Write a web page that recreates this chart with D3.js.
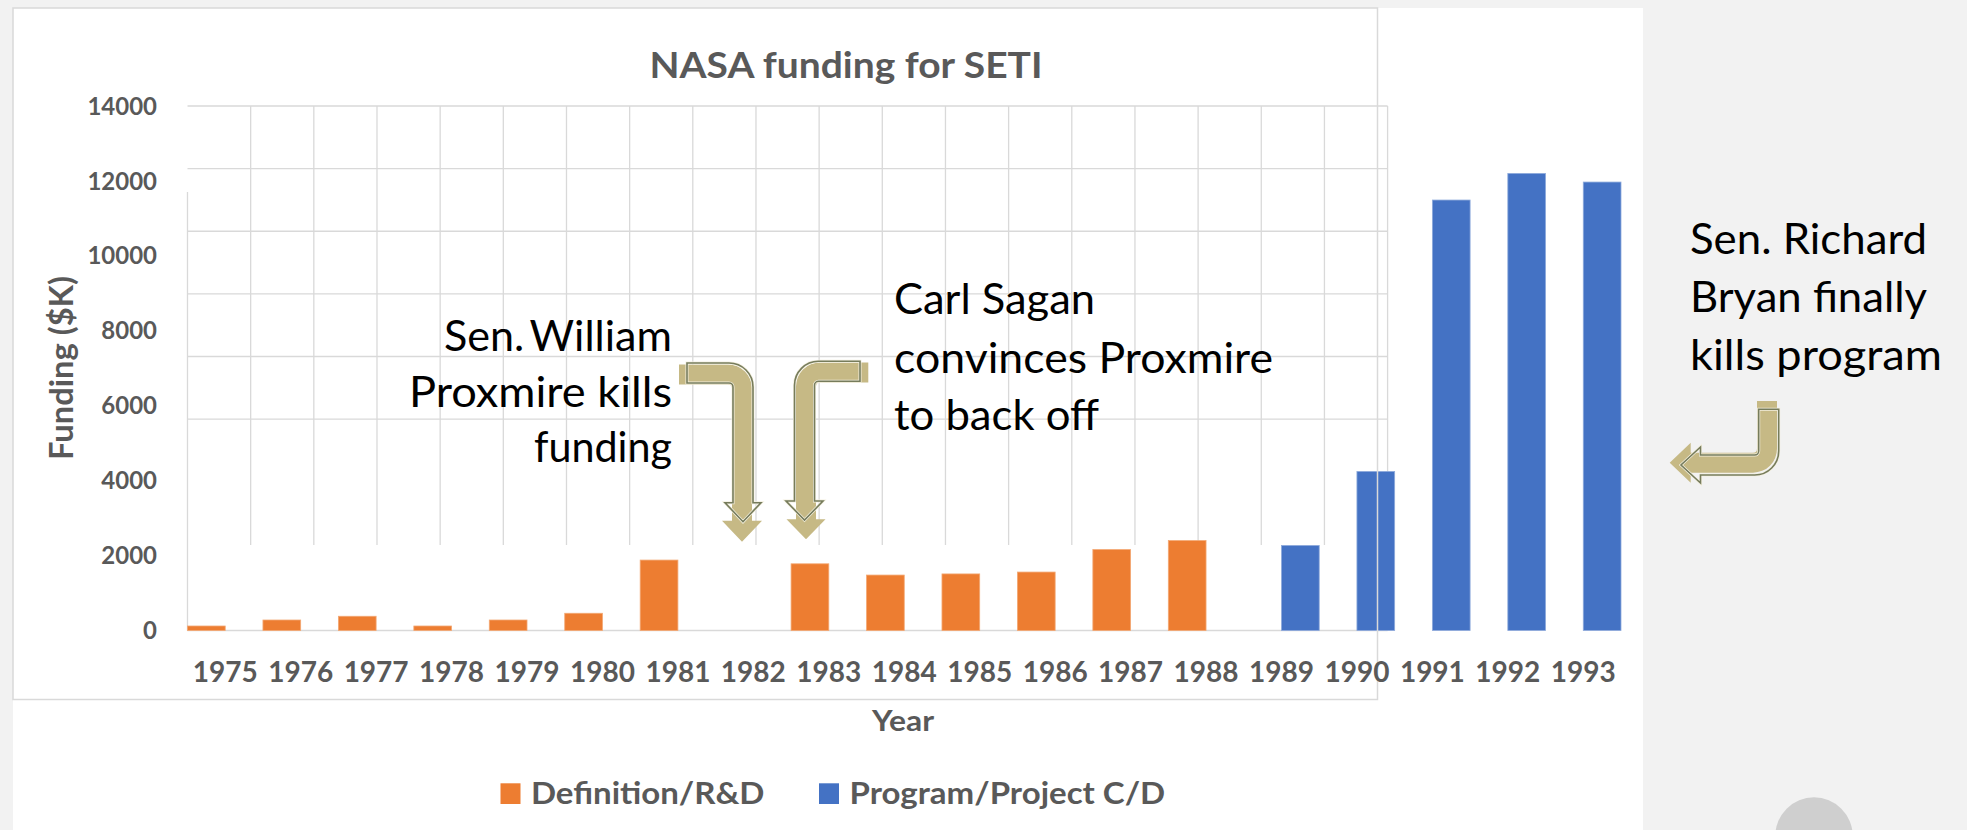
<!DOCTYPE html>
<html><head><meta charset="utf-8">
<script src="https://cdn.jsdelivr.net/npm/d3@7"></script>
<style>
html,body{margin:0;padding:0;background:#f2f2f2;overflow:hidden;}
svg{display:block;}
</style></head>
<body>
<svg id="chart" width="1967" height="830"></svg>
<script>
// ---------------- data ----------------
const years = [1975,1976,1977,1978,1979,1980,1981,1982,1983,1984,1985,1986,1987,1988,1989,1990,1991,1992,1993];
const definitionRD = [120,280,380,120,280,460,1880,0,1780,1480,1510,1560,2160,2400,0,0,0,0,0];
const programCD   = [0,0,0,0,0,0,0,0,0,0,0,0,0,0,2270,4245,11490,12200,11970];
const seriesNames = ["Definition/R&D", "Program/Project C/D"];
const seriesColors = ["#ed7d31", "#4472c4"];
const yTicks = [0,2000,4000,6000,8000,10000,12000,14000];
const gridTicks = [4000,6000,8000,10000,12000,14000];
const chartTitle = "NASA funding for SETI";
const yTitle = "Funding ($K)";
const xTitle = "Year";
const noteProxmire = ["Sen.\u2009William", "Proxmire kills", "funding"];
const noteSagan = ["Carl Sagan", "convinces Proxmire", "to back off"];
const noteBryan = ["Sen. Richard", "Bryan finally", "kills program"];

// ---------------- layout ----------------
const svg = d3.select("#chart");
const W = 1967, H = 830;
const textGray = "#595959", gridGray = "#d9d9d9";
const plotLeft = 187.5, plotRight = 1621, gridRight = 1387.6;
const y0 = 630.5, yTop = 106;

svg.append("rect").attr("width", W).attr("height", H).attr("fill", "#f2f2f2");
svg.append("rect").attr("x", 13).attr("y", 8).attr("width", 1643 - 13).attr("height", H - 8).attr("fill", "#fff");

const x = d3.scaleBand().domain(years).range([plotLeft, plotRight]).paddingInner(0).paddingOuter(0);
const xs = d3.scaleBand().domain(seriesNames).range([0, x.bandwidth()]).padding(0);
const y = d3.scaleLinear().domain([0, 14000]).range([y0, yTop]);

// stretched gridline layer (as it appears in the pasted slide)
const xGrid = d3.scaleBand().domain(years).range([plotLeft, gridRight]);
const yGrid = d3.scaleLinear().domain([0, 14000]).range([544.4, yTop]);

const grid = svg.append("g").attr("stroke", gridGray).attr("stroke-width", 1.3);
grid.selectAll("line.h").data(gridTicks).join("line")
  .attr("x1", plotLeft).attr("x2", gridRight)
  .attr("y1", d => yGrid(d)).attr("y2", d => yGrid(d));
grid.selectAll("line.v").data(years.slice(1)).join("line")
  .attr("x1", d => xGrid(d)).attr("x2", d => xGrid(d))
  .attr("y1", yGrid(14000)).attr("y2", 545);
grid.append("line").attr("x1", plotLeft).attr("x2", plotLeft).attr("y1", 192).attr("y2", y0);
grid.append("line").attr("x1", gridRight).attr("x2", gridRight).attr("y1", yTop).attr("y2", y0);
grid.append("line").attr("x1", plotLeft).attr("x2", gridRight).attr("y1", y0).attr("y2", y0);

// bars
const rows = years.map((yr, i) => ({year: yr, vals: [definitionRD[i], programCD[i]]}));
const barStroke = ["#f3a874", "#8eaadb"];
const gBars = svg.append("g");
rows.forEach(r => {
  r.vals.forEach((v, si) => {
    if (!v) return;
    gBars.append("rect")
      .attr("x", x(r.year) + xs(seriesNames[si]))
      .attr("width", xs.bandwidth())
      .attr("y", y(v))
      .attr("height", y0 - y(v))
      .attr("fill", seriesColors[si])
      .attr("stroke", barStroke[si]).attr("stroke-width", 0.8);
  });
});

// chart frame (from the pasted slide object)
svg.append("rect").attr("x", 13).attr("y", 8).attr("width", 1377.5 - 13).attr("height", 699.5 - 8)
  .attr("fill", "none").attr("stroke", gridGray).attr("stroke-width", 1.5);

const font = "Lato, 'Open Sans', sans-serif";
function fit(sel, w) { if (w) sel.attr("textLength", w).attr("lengthAdjust", "spacingAndGlyphs"); return sel; }

// title
fit(svg.append("text").attr("x", 846).attr("y", 77.7).attr("text-anchor", "middle")
  .attr("font-family", font).attr("font-weight", 700).attr("font-size", 37).attr("fill", textGray)
  .text(chartTitle), 393);

// y tick labels
svg.append("g").selectAll("text").data(yTicks).join("text")
  .attr("x", 157).attr("y", d => y(d) + 8.6).attr("text-anchor", "end")
  .attr("font-family", font).attr("font-weight", 700).attr("font-size", 24).attr("fill", textGray)
  .text(d => d);

// x labels
svg.append("g").selectAll("text").data(years).join("text")
  .attr("x", d => x(d) + x.bandwidth() / 2).attr("y", 681.7).attr("text-anchor", "middle")
  .attr("font-family", font).attr("font-weight", 700).attr("font-size", 28).attr("fill", textGray)
  .text(d => d);

// axis titles
fit(svg.append("text").attr("transform", "translate(73.3,368) rotate(-90)").attr("text-anchor", "middle")
  .attr("font-family", font).attr("font-weight", 700).attr("font-size", 31.5).attr("fill", textGray)
  .text(yTitle), 184);
fit(svg.append("text").attr("x", 903).attr("y", 730.7).attr("text-anchor", "middle")
  .attr("font-family", font).attr("font-weight", 700).attr("font-size", 29).attr("fill", textGray)
  .text(xTitle), 62);

// legend
const legendPos = [{sx: 500.5, tx: 530.9, tw: 233.6}, {sx: 819, tx: 849.5, tw: 315.7}];
seriesNames.forEach((name, i) => {
  svg.append("rect").attr("x", legendPos[i].sx).attr("y", 783.3).attr("width", 20).attr("height", 20.7)
    .attr("fill", seriesColors[i]);
  fit(svg.append("text").attr("x", legendPos[i].tx).attr("y", 804)
    .attr("font-family", font).attr("font-weight", 700).attr("font-size", 31).attr("fill", textGray)
    .text(name), legendPos[i].tw);
});

// annotations text
function note(lines, xPos, baselines, anchor, widths) {
  lines.forEach((t, i) => {
    fit(svg.append("text").attr("x", xPos).attr("y", baselines[i]).attr("text-anchor", anchor)
      .attr("font-family", font).attr("font-weight", 400).attr("font-size", 42).attr("fill", "#000")
      .text(t), widths[i]);
  });
}
note(noteProxmire, 672, [351, 406.5, 462], "end", [228, 263, 138]);
note(noteSagan, 894, [313.5, 373.3, 430], "start", [201, 379, 205]);
note(noteBryan, 1690, [253.6, 311.8, 370], "start", [237, 237, 252]);

// bent arrows
function bentArrow(p0, p1, tip, w, hw, hl, rc) {
  const unit = (a, b) => { const dx = b[0] - a[0], dy = b[1] - a[1], l = Math.hypot(dx, dy); return [dx / l, dy / l]; };
  const d1 = unit(p0, p1), d2 = unit(p1, tip);
  const cross = d1[0] * d2[1] - d1[1] * d2[0];
  const sg = cross > 0 ? 1 : -1;
  const N = d => [sg * d[1], -sg * d[0]];
  const h = w / 2;
  const A = [p1[0] - d1[0] * rc, p1[1] - d1[1] * rc];
  const B = [p1[0] + d2[0] * rc, p1[1] + d2[1] * rc];
  const base = [tip[0] - d2[0] * hl, tip[1] - d2[1] * hl];
  const n1 = N(d1), n2 = N(d2);
  const off = (p, n, k) => (p[0] + n[0] * k).toFixed(2) + "," + (p[1] + n[1] * k).toFixed(2);
  const so = cross > 0 ? 1 : 0, si = 1 - so;
  return "M" + off(p0, n1, h) + "L" + off(A, n1, h) +
    "A" + (rc + h) + "," + (rc + h) + " 0 0 " + so + " " + off(B, n2, h) +
    "L" + off(base, n2, h) + "L" + off(base, n2, hw / 2) + "L" + off(tip, n2, 0) +
    "L" + off(base, n2, -hw / 2) + "L" + off(base, n2, -h) + "L" + off(B, n2, -h) +
    "A" + (rc - h) + "," + (rc - h) + " 0 0 " + si + " " + off(A, n1, -h) +
    "L" + off(p0, n1, -h) + "Z";
}
const arrowFill = "#c6b985", arrowLine = "#767c5c";
const arrows = [
  {fill: [[679, 374.5], [742, 374.5], [742, 541.7], 20, 40, 21],
   line: [[687, 373], [743, 373], [743, 521.7], 20, 36, 19]},
  {fill: [[868.3, 372.5], [806, 372.5], [806, 539.3], 20, 39, 20],
   line: [[860, 371.3], [804.5, 371.3], [804.5, 520], 20, 37, 19]},
  {fill: [[1767, 401], [1767, 462.7], [1669.7, 462.7], 20, 40, 21],
   line: [[1768.7, 409.3], [1768.7, 465], [1681, 465], 20, 36, 19.5]}
];
arrows.forEach(a => {
  svg.append("path").attr("d", bentArrow(...a.fill, 14)).attr("fill", arrowFill);
  svg.append("path").attr("d", bentArrow(...a.line, 14)).attr("fill", "none")
    .attr("stroke", "#f4f0e0").attr("stroke-width", 3);
  svg.append("path").attr("d", bentArrow(...a.line, 14)).attr("fill", "none")
    .attr("stroke", arrowLine).attr("stroke-width", 1.6);
});

// slide page-number bubble at bottom right
svg.append("circle").attr("cx", 1814).attr("cy", 836).attr("r", 38.7).attr("fill", "#cfcfcf");
</script>
</body></html>
